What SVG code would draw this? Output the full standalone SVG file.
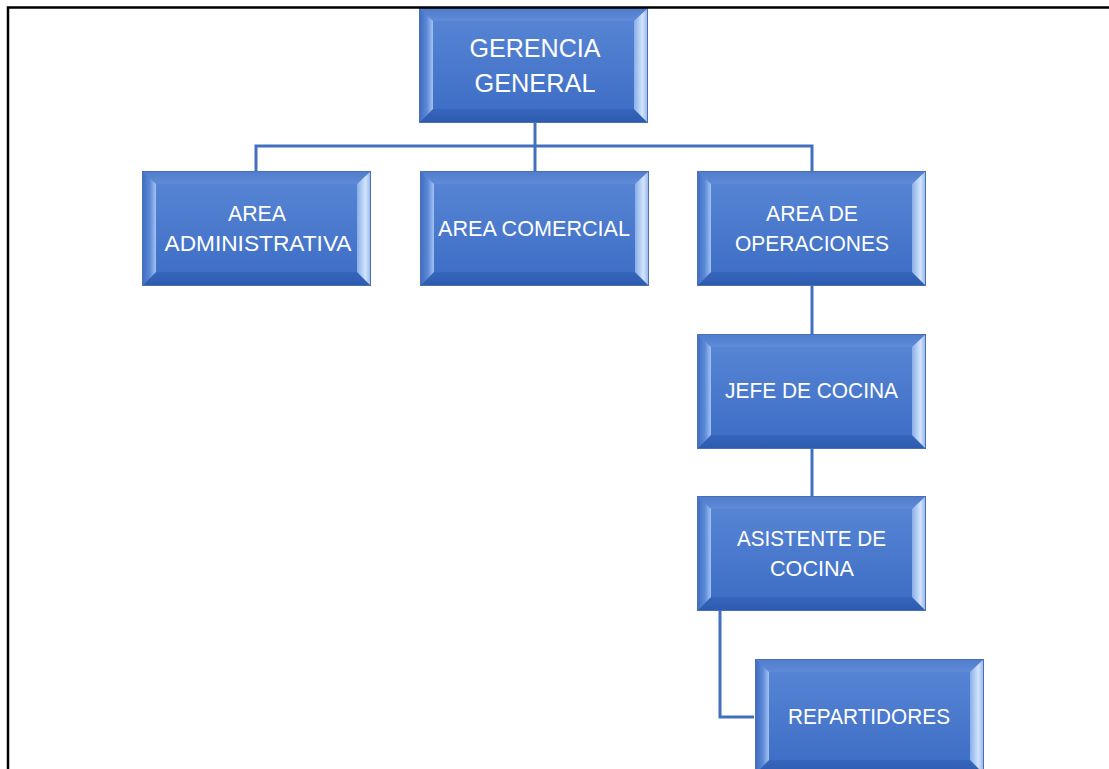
<svg xmlns="http://www.w3.org/2000/svg" xmlns:xlink="http://www.w3.org/1999/xlink" width="1109" height="769" viewBox="0 0 1109 769">
<style>
.lbl{font-family:"Liberation Sans",Arial,sans-serif;fill:#ffffff;text-anchor:middle;font-size:21.5px}
.big{font-size:26px}
.conn{fill:none;stroke:#4270bf;stroke-width:3}
.frame{fill:none;stroke:#000000;stroke-width:2.5}
</style>
<defs>
<linearGradient id="face" x1="0" y1="0" x2="0" y2="1">
<stop offset="0" stop-color="#5a87d6"/>
<stop offset="1" stop-color="#3b6cc4"/>
</linearGradient>
<linearGradient id="topB" x1="0" y1="0" x2="0" y2="1">
<stop offset="0" stop-color="#4f7ccc"/>
<stop offset="1" stop-color="#5f8bd8"/>
</linearGradient>
<linearGradient id="botB" x1="0" y1="0" x2="0" y2="1">
<stop offset="0" stop-color="#3666bd"/>
<stop offset="1" stop-color="#2c5aad"/>
</linearGradient>
<linearGradient id="leftB" x1="0" y1="0" x2="1" y2="0">
<stop offset="0" stop-color="#3d6bbf"/>
<stop offset="0.55" stop-color="#5b88d6"/>
<stop offset="1" stop-color="#a3c3f2"/>
</linearGradient>
<linearGradient id="rightB" x1="0" y1="0" x2="1" y2="0">
<stop offset="0" stop-color="#88aee9"/>
<stop offset="0.6" stop-color="#d2e4fb"/>
<stop offset="1" stop-color="#8fb2ea"/>
</linearGradient>
<g id="box">
<rect x="0" y="0" width="229" height="115" fill="url(#face)"/>
<polygon points="0,0 229,0 215,13 14,13" fill="url(#topB)"/>
<polygon points="0,115 14,101 215,101 229,115" fill="url(#botB)"/>
<polygon points="0,0 14,13 14,101 0,115" fill="url(#leftB)"/>
<polygon points="229,0 229,115 215,101 215,13" fill="url(#rightB)"/>
<rect x="0.5" y="0.5" width="228" height="114" fill="none" stroke="#4a6fb5" stroke-width="1"/>
</g>
</defs>
<rect x="0" y="0" width="1109" height="769" fill="#ffffff"/>

<g id="connectors">
<path class="conn" d="M535,123 V146"/>
<path class="conn" d="M256,171 V146 H812 V171"/>
<path class="conn" d="M535,146 V171"/>
<path class="conn" d="M812,286 V334"/>
<path class="conn" d="M812,449 V496"/>
<path class="conn" d="M720,611 V717 H754"/>
</g>

<g id="node-gerencia">
<use xlink:href="#box" href="#box" x="419" y="8"/>
<text class="lbl big" x="535" y="57" textLength="131" lengthAdjust="spacingAndGlyphs">GERENCIA</text>
<text class="lbl big" x="535" y="92" textLength="121" lengthAdjust="spacingAndGlyphs">GENERAL</text>
</g>
<g id="node-admin">
<use xlink:href="#box" href="#box" x="142" y="171"/>
<text class="lbl" x="257" y="221" textLength="58" lengthAdjust="spacingAndGlyphs">AREA</text>
<text class="lbl" x="258" y="251" textLength="187" lengthAdjust="spacingAndGlyphs">ADMINISTRATIVA</text>
</g>
<g id="node-comercial">
<use xlink:href="#box" href="#box" x="420" y="171"/>
<text class="lbl" x="534" y="236" textLength="192" lengthAdjust="spacingAndGlyphs">AREA COMERCIAL</text>
</g>
<g id="node-operaciones">
<use xlink:href="#box" href="#box" x="697" y="171"/>
<text class="lbl" x="812" y="221" textLength="92" lengthAdjust="spacingAndGlyphs">AREA DE</text>
<text class="lbl" x="812" y="251" textLength="154" lengthAdjust="spacingAndGlyphs">OPERACIONES</text>
</g>
<g id="node-jefe">
<use xlink:href="#box" href="#box" x="697" y="334"/>
<text class="lbl" x="811.5" y="398" textLength="173" lengthAdjust="spacingAndGlyphs">JEFE DE COCINA</text>
</g>
<g id="node-asistente">
<use xlink:href="#box" href="#box" x="697" y="496"/>
<text class="lbl" x="811.5" y="546" textLength="149" lengthAdjust="spacingAndGlyphs">ASISTENTE DE</text>
<text class="lbl" x="812" y="576" textLength="84" lengthAdjust="spacingAndGlyphs">COCINA</text>
</g>
<g id="node-repartidores">
<use xlink:href="#box" href="#box" x="755" y="659"/>
<text class="lbl" x="869" y="724" textLength="162" lengthAdjust="spacingAndGlyphs">REPARTIDORES</text>
</g>

<path class="frame" d="M8,769 V7.5 H1109"/>
</svg>
